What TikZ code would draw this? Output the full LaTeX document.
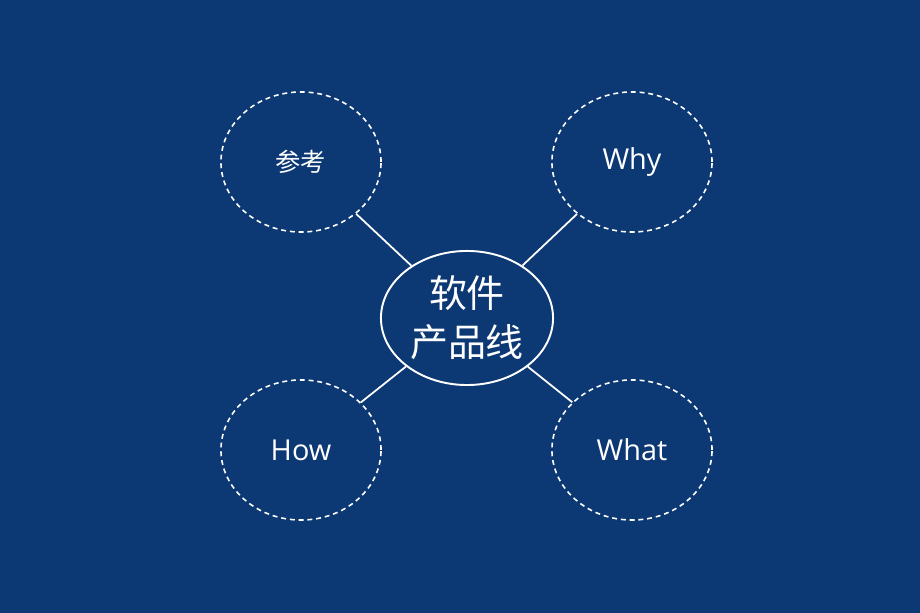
\documentclass[tikz,border=0pt]{standalone}
\usepackage{fontspec}
\setmainfont{Open Sans}
\newfontfamily\cjk{Noto Sans CJK SC}
\usetikzlibrary{shapes.geometric}
\definecolor{bgblue}{RGB}{12,56,116}
\tikzset{
    x=0.01cm, y=-0.01cm,
    hubnode/.style={ellipse, draw=white, line width=0.55pt, minimum width=1.72cm, minimum height=1.34cm, inner sep=0pt, text=white, align=center}, % the centre
    leafnode/.style={ellipse, draw=white, line width=0.45pt, dash pattern=on 1.4pt off 1.1pt, minimum width=1.6cm, minimum height=1.4cm, inner sep=0pt, text=white}, % the four dashed bubbles
    link/.style={draw=white, line width=0.5pt},
}
\begin{document}
\begin{tikzpicture}
\fill[bgblue] (0,0) rectangle (920,613);
\useasboundingbox (0,0) rectangle (920,613);
\node[hubnode, font=\cjk\fontsize{10.8}{14}\selectfont] (hub) at (467,318) {软件\\产品线};
\node[leafnode, font=\cjk\fontsize{7.2}{9}\selectfont] (ref) at (301,162) {参考};
\node[leafnode, font=\fontsize{8.2}{10}\selectfont] (why) at (632,162) {Why};
\node[leafnode, font=\fontsize{8.2}{10}\selectfont] (how) at (301,450) {How};
\node[leafnode, font=\fontsize{8.2}{10}\selectfont] (what) at (632,450) {What};
\foreach \leaf in {ref, why, how, what}
    \draw[link] (hub) -- (\leaf);
\end{tikzpicture}
\end{document}
